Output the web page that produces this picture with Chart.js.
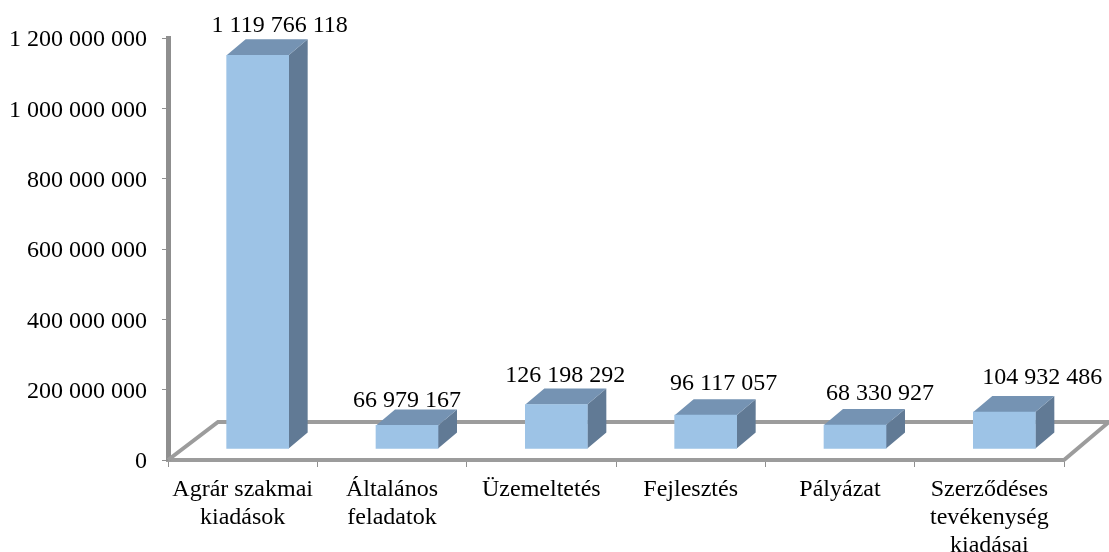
<!DOCTYPE html>
<html>
<head>
<meta charset="utf-8">
<style>
  html, body { margin: 0; padding: 0; background: #fff; }
  canvas { display: block; }
</style>
<script src="https://cdn.jsdelivr.net/npm/chart.js@4"></script>
</head>
<body>
<canvas id="myChart" width="1109" height="552"></canvas>
<script>
const categories = [
  ['Agrár szakmai', 'kiadások'],
  ['Általános', 'feladatok'],
  'Üzemeltetés',
  'Fejlesztés',
  'Pályázat',
  ['Szerződéses', 'tevékenység', 'kiadásai']
];
const values = [1119766118, 66979167, 126198292, 96117057, 68330927, 104932486];
const yTicks = [0, 200000000, 400000000, 600000000, 800000000, 1000000000, 1200000000];

// the value labels were placed by hand in the original, so they don't sit centered
const labelDx = [22, 0, 9, 18, 25, 38];
const labelDy = [-14, -9, -13, -15, -15, -18];

const serif = '"Liberation Serif", "Times New Roman", serif';
const axisGray = '#8f8f8f';
const floorGray = '#9c9c9c';

// offset of the bars from the axis, and depth of the 3d effect
const barShift = { x: 15, y: -11 };
const barDepth = { x: 19, y: -16 };
const floorDepth = { left: 50, right: 45, y: -38 };

function spaced(n) {
  return String(n).replace(/\B(?=(\d{3})+(?!\d))/g, ' ');
}

const fake3d = {
  id: 'fake3d',
  beforeDatasetsDraw(chart) {
    const c = chart.ctx;
    const a = chart.chartArea;
    c.save();
    c.strokeStyle = floorGray;
    c.lineWidth = 4;
    c.beginPath();
    c.moveTo(a.left, a.bottom);
    c.lineTo(a.left + floorDepth.left, a.bottom + floorDepth.y);
    c.lineTo(a.right + floorDepth.right, a.bottom + floorDepth.y);
    c.lineTo(a.right, a.bottom);
    c.stroke();
    c.restore();

    // side and top faces go behind the front face that the library draws
    c.save();
    c.translate(barShift.x, barShift.y);
    chart.getDatasetMeta(0).data.forEach(bar => {
      const l = bar.x - bar.width / 2;
      const r = bar.x + bar.width / 2;
      const t = bar.y;
      const b = bar.base;
      c.fillStyle = '#617a95';
      c.beginPath();
      c.moveTo(r, t);
      c.lineTo(r + barDepth.x, t + barDepth.y);
      c.lineTo(r + barDepth.x, b + barDepth.y);
      c.lineTo(r, b);
      c.closePath();
      c.fill();
      c.fillStyle = '#7593b3';
      c.beginPath();
      c.moveTo(l, t);
      c.lineTo(l + barDepth.x, t + barDepth.y);
      c.lineTo(r + barDepth.x, t + barDepth.y);
      c.lineTo(r, t);
      c.closePath();
      c.fill();
    });
    // left on so the bars come out shifted too
  },
  afterDatasetsDraw(chart) {
    const c = chart.ctx;
    c.restore();
    c.save();
    c.fillStyle = '#000';
    c.font = '24px ' + serif;
    c.textAlign = 'center';
    c.textBaseline = 'middle';
    chart.getDatasetMeta(0).data.forEach((bar, i) => {
      const x = bar.x + barShift.x + labelDx[i];
      const y = bar.y + barShift.y + barDepth.y + labelDy[i];
      c.fillText(spaced(values[i]), x, y);
    });
    c.restore();
  }
};

new Chart(document.getElementById('myChart'), {
  type: 'bar',
  plugins: [fake3d],
  data: {
    labels: categories,
    datasets: [{
      data: values,
      backgroundColor: '#9dc3e6',
      borderWidth: 0,
      barThickness: 62,
      clip: false
    }]
  },
  options: {
    responsive: false,
    animation: false,
    layout: { padding: { top: 38, right: 45, left: 0, bottom: 0 } },
    plugins: {
      legend: { display: false },
      title: { display: false },
      tooltip: { enabled: false }
    },
    scales: {
      x: {
        offset: true,
        afterFit(axis) { axis.height = 92; },
        grid: { drawOnChartArea: false, offset: true, tickLength: 7, tickColor: axisGray },
        border: { color: floorGray, width: 4 },
        ticks: {
          color: '#000',
          font: { family: serif, size: 24, lineHeight: 1.17 },
          maxRotation: 0,
          autoSkip: false,
          padding: 9
        }
      },
      y: {
        min: 0,
        max: 1200000000,
        afterFit(axis) { axis.width = 168; },
        afterBuildTicks(axis) { axis.ticks = yTicks.map(v => ({ value: v })); },
        grid: { drawOnChartArea: false, tickLength: 6, tickColor: axisGray },
        border: { color: axisGray, width: 5 },
        ticks: {
          color: '#000',
          // empty first line + 4px line height nudges the text 2px down onto the tick
          font: { family: serif, size: 24, lineHeight: '4px' },
          padding: 15,
          callback: v => ['', spaced(v)]
        }
      }
    }
  }
});
</script>
</body>
</html>
